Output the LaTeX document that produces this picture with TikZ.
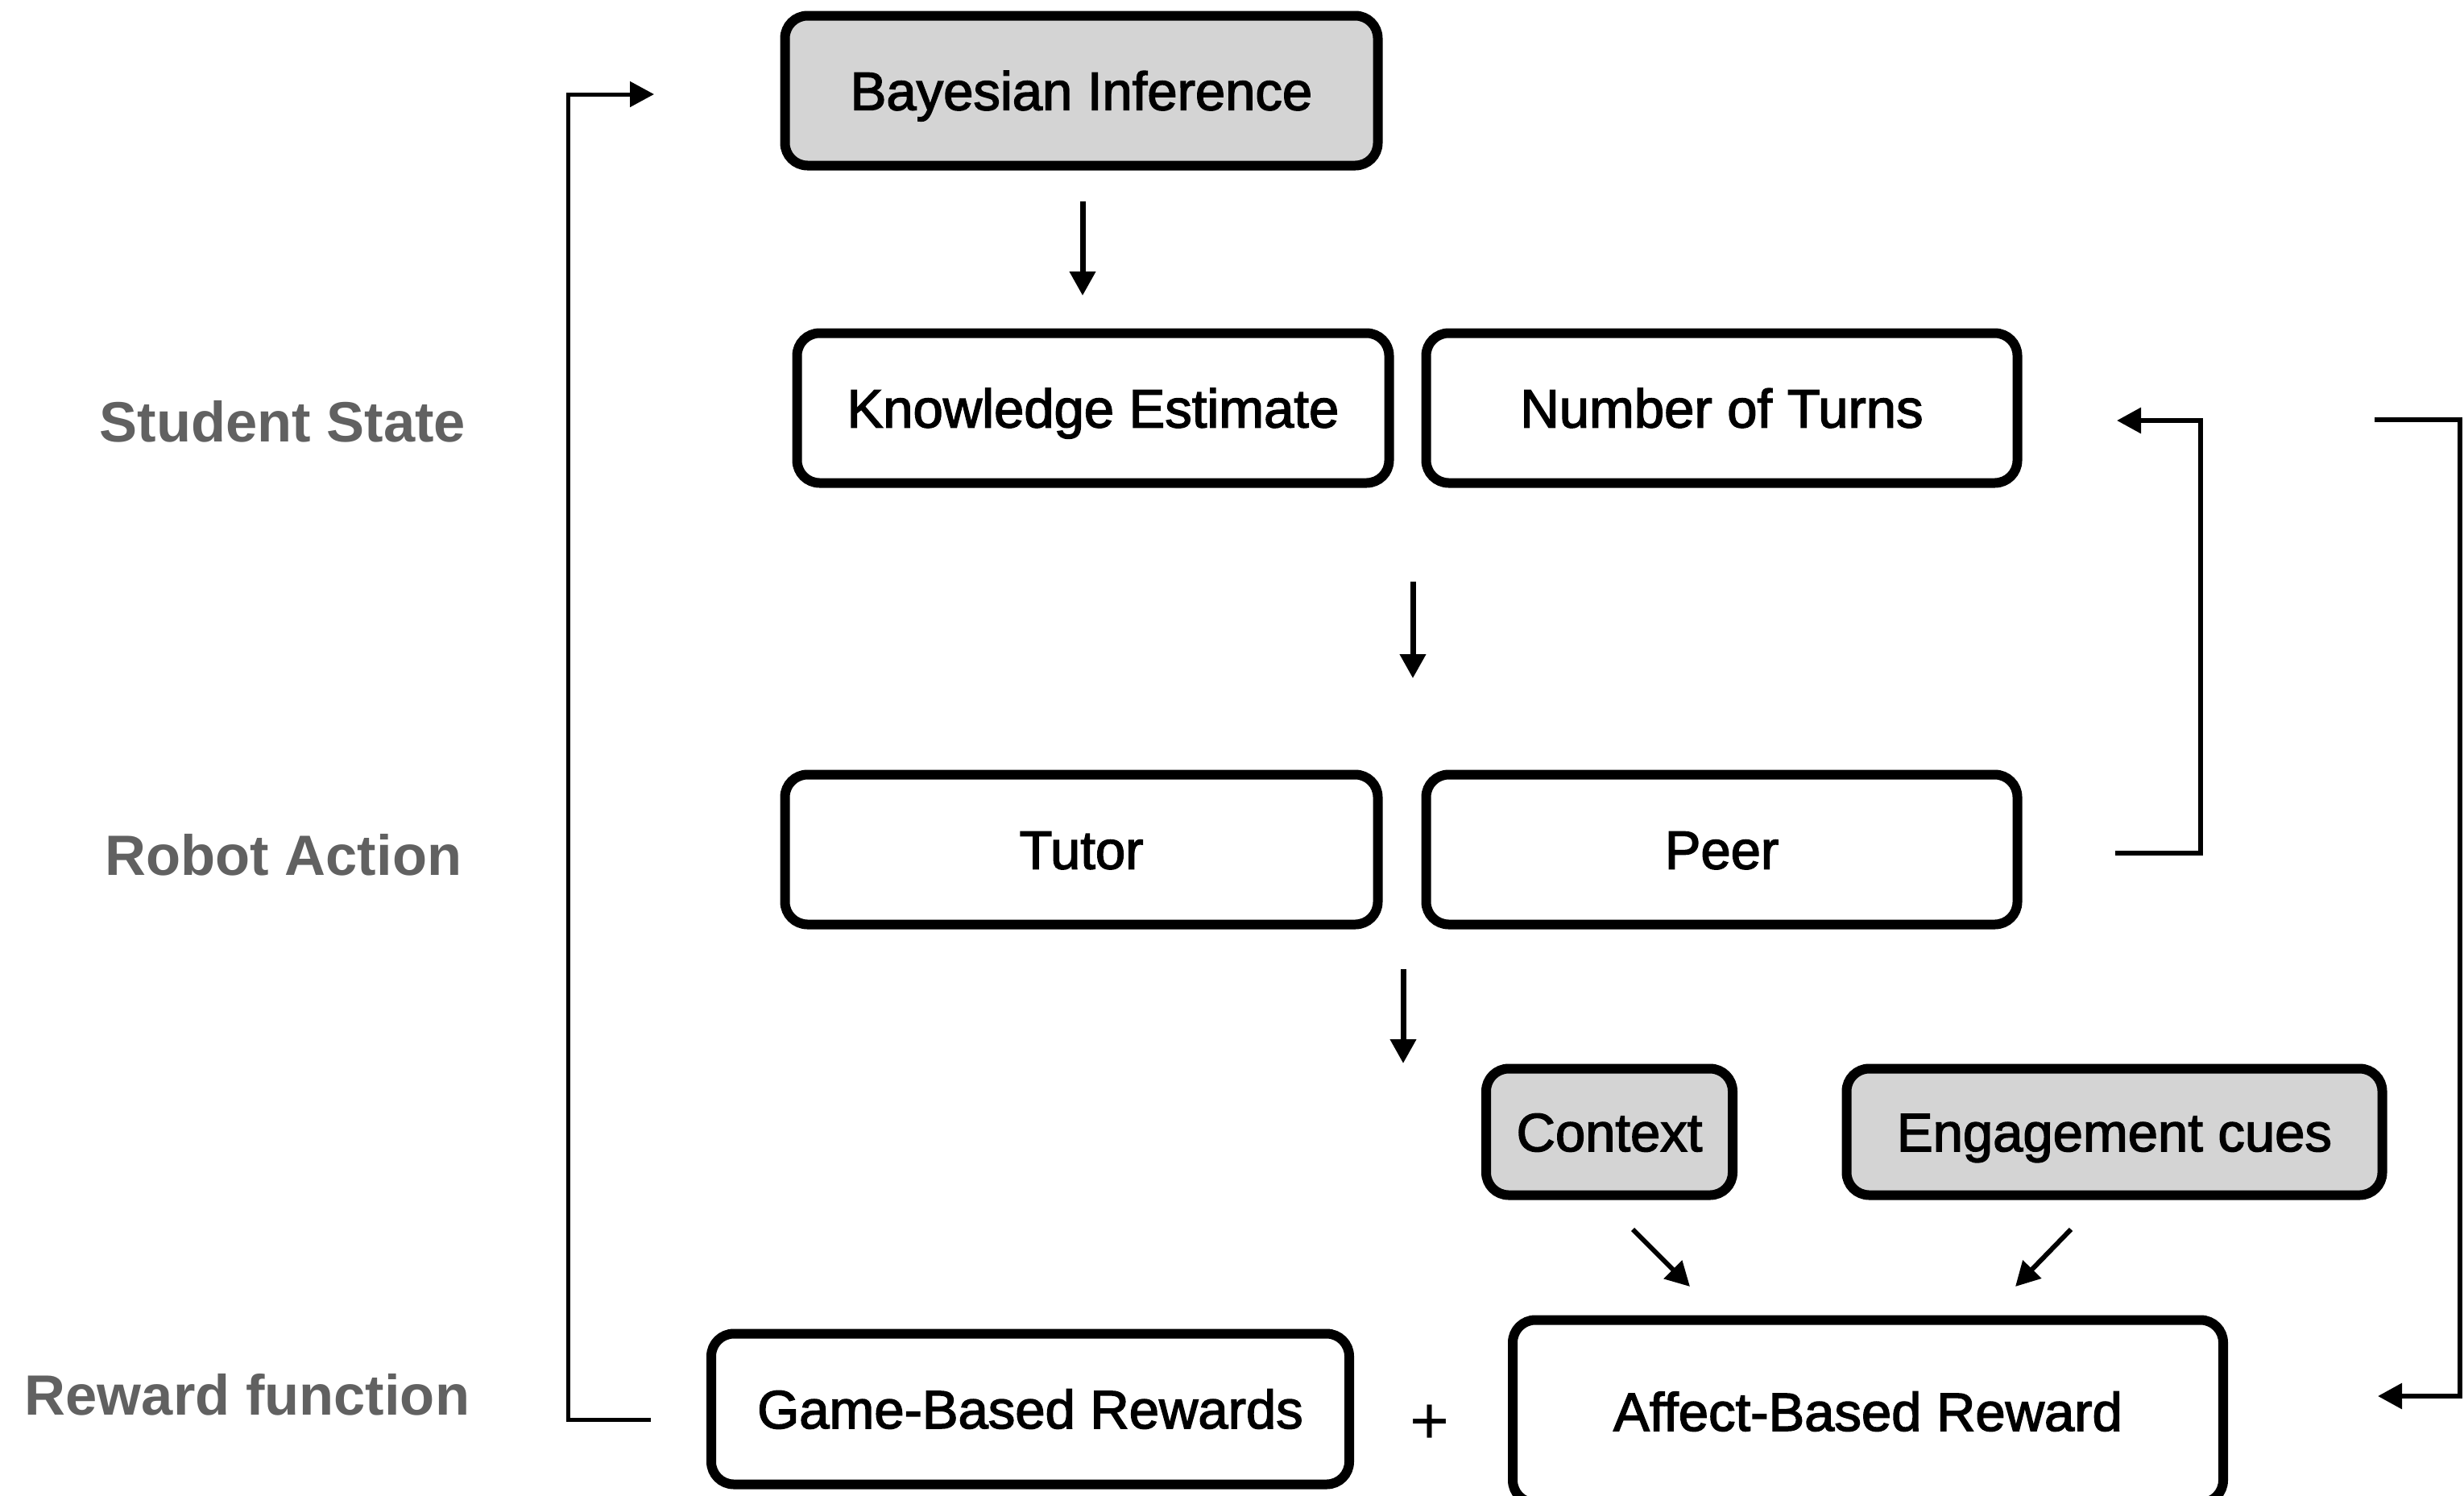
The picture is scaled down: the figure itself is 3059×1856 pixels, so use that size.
\documentclass[tikz,border=0pt]{standalone}
\usepackage{fontspec}
\setmainfont{Liberation Sans}
\newfontfamily\boxfont[FakeBold=2.2]{Liberation Sans}
\usetikzlibrary{arrows.meta}
\definecolor{boxgray}{HTML}{D4D4D4}
\definecolor{labelgray}{HTML}{616161}
\begin{document}
\begin{tikzpicture}[x=1pt,y=-1pt,
  box/.style={draw=black, line width=12pt, rounded corners=28pt, inner sep=0pt,
    font=\boxfont\fontsize{67}{70}\selectfont, text height=48pt, text depth=0pt},
  gbox/.style={box, fill=boxgray},
  wbox/.style={box, fill=white},
  lab/.style={font=\bfseries\fontsize{70.5}{74}\selectfont, text=labelgray,
    inner sep=0pt, text height=50pt, text depth=0pt},
  conn/.style={line width=7pt, -{Triangle[width=31pt,length=30pt]}},
  bracket/.style={line width=6pt, -{Triangle[width=31pt,length=30pt]}},
]
\useasboundingbox (0,0) rectangle (3059,1856);
\clip (0,0) rectangle (3059,1856);

% side labels
\node[lab] (lstate) at (351,523) {Student State};
\node[lab] (laction) at (352,1061) {Robot Action};
\node[lab] (lreward) at (307,1731) {Reward function};

% boxes
\node[gbox, minimum width=736pt, minimum height=186pt] (bayes) at (1342.5,112.5) {Bayesian Inference};
\node[wbox, minimum width=735pt, minimum height=186pt] (know) at (1357,506.5) {Knowledge Estimate};
\node[wbox, minimum width=734pt, minimum height=186pt] (turns) at (2137.5,506.5) {Number of Turns};
\node[wbox, minimum width=736pt, minimum height=186pt] (tutor) at (1342.5,1054.5) {Tutor};
\node[wbox, minimum width=734pt, minimum height=186pt] (peer) at (2137.5,1054.5) {Peer};
\node[gbox, minimum width=306pt, minimum height=157pt] (context) at (1998,1405) {Context};
\node[gbox, minimum width=665pt, minimum height=157pt] (engage) at (2625,1405) {Engagement cues};
\node[wbox, minimum width=792pt, minimum height=187pt] (game) at (1279,1749) {Game-Based Rewards};
\node[wbox, minimum width=882pt, minimum height=227pt] (affect) at (2319,1752) {Affect-Based Reward};
\node[font=\fontsize{84}{88}\selectfont, inner sep=0pt, anchor=base] (plus) at (1775,1792) {+};

% straight arrows
\coordinate (a1s) at (1344,250);  \coordinate (a1e) at (1344,367);
\coordinate (a2s) at (1754,722);  \coordinate (a2e) at (1754,842);
\coordinate (a3s) at (1742,1203); \coordinate (a3e) at (1742,1320);
\coordinate (a4s) at (2027,1526); \coordinate (a4e) at (2098,1597);
\coordinate (a5s) at (2571,1526); \coordinate (a5e) at (2502,1597);
\draw[conn] (a1s) -- (a1e);
\draw[conn] (a2s) -- (a2e);
\draw[conn] (a3s) -- (a3e);
\draw[conn, line width=6pt] (a4s) -- (a4e);
\draw[conn, line width=6pt] (a5s) -- (a5e);

% left feedback bracket
\coordinate (lbs) at (808,1762);
\coordinate (lbb) at (705,1762);
\coordinate (lbt) at (705,117);
\coordinate (lbe) at (812,117);
\draw[bracket, line width=5pt] (lbs) -- (lbb) -- (lbt) -- (lbe);

% right inner bracket
\coordinate (ris) at (2626,1059);
\coordinate (rib) at (2732,1059);
\coordinate (rit) at (2732,522);
\coordinate (rie) at (2628,522);
\draw[bracket] (ris) -- (rib) -- (rit) -- (rie);

% right outer bracket
\coordinate (ros) at (2948,521);
\coordinate (rot) at (3054,521);
\coordinate (rob) at (3054,1733);
\coordinate (roe) at (2952,1733);
\draw[bracket] (ros) -- (rot) -- (rob) -- (roe);
\end{tikzpicture}
\end{document}
